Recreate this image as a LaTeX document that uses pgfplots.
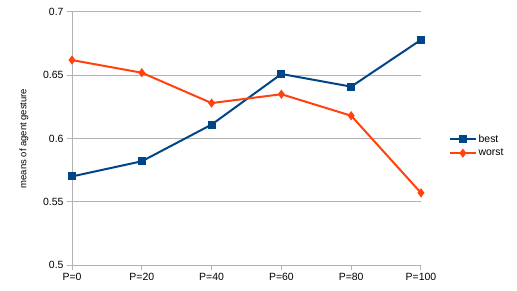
\documentclass[border=0pt]{standalone}
\usepackage{fontspec}
\setmainfont{Liberation Sans}
\usepackage{pgfplots}
\pgfplotsset{compat=1.18}
\definecolor{cbest}{HTML}{004586}
\definecolor{cworst}{HTML}{FF420E}
\definecolor{gridc}{HTML}{B3B3B3}
\begin{document}
\begin{tikzpicture}
\path[use as bounding box] (0,0) rectangle (517bp,291bp);
\begin{axis}[
  at={(72bp,26bp)}, anchor=south west,
  scale only axis, width=349bp, height=253bp,
  xmin=0, xmax=5, ymin=0.5, ymax=0.7,
  xtick={0,1,2,3,4,5},
  xticklabels={P=0,P=20,P=40,P=60,P=80,P=100},
  ytick={0.5,0.55,0.6,0.65,0.7},
  yticklabels={0.5,0.55,0.6,0.65,0.7},
  ymajorgrids, grid style={gridc, line width=1bp},
  axis x line*=bottom, axis y line*=left,
  axis line style={gridc, line width=1bp, -},
  tick style={gridc, line width=1bp}, tick align=outside, major tick length=5bp,
  ticklabel style={font=\fontsize{10.5}{12}\selectfont},
  ylabel={means of agent gesture},
  ylabel style={font=\fontsize{9.5}{11}\selectfont, at={(axis description cs:-0.1375,0.5)}, anchor=center},
  legend style={at={(axis description cs:1.08,0.47)}, anchor=west, draw=none, fill=none,
    font=\fontsize{10.5}{12}\selectfont, row sep=1bp, inner sep=0pt},
  legend cell align=left,
  legend image code/.code={\draw[mark repeat=2,mark phase=2,#1] plot coordinates {(0cm,0cm) (0.45cm,0cm) (0.9cm,0cm)};},
]
\addplot[cbest, line width=2bp, mark=square*, mark size=3bp, mark options={solid}] coordinates {
  (0,0.570) (1,0.582) (2,0.611) (3,0.651) (4,0.641) (5,0.678)};
\addlegendentry{best}
\addplot[cworst, line width=2bp, mark=diamond*, mark size=3bp, mark options={solid}] coordinates {
  (0,0.662) (1,0.652) (2,0.628) (3,0.635) (4,0.618) (5,0.557)};
\addlegendentry{worst}
\end{axis}
\end{tikzpicture}
\end{document}
